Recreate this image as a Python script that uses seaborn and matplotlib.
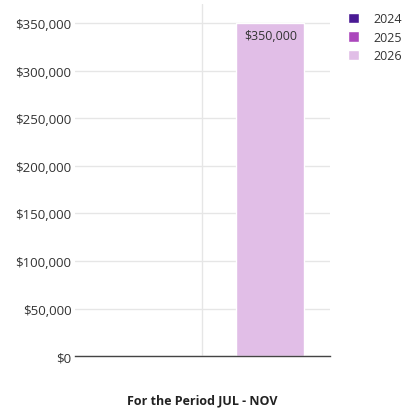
import matplotlib
matplotlib.use("Agg")
import matplotlib.pyplot as plt
import seaborn as sns
import pandas as pd
from matplotlib.ticker import FuncFormatter

# data
period = ["For the Period JUL - NOV"]
years = ["2024", "2025", "2026"]
amounts = [0, 0, 350000]
colors = ["#4a1a94", "#ab47bc", "#e1bee7"]

df = pd.DataFrame({
    "period": period * len(years),
    "year": years,
    "amount": amounts,
})

sns.set_theme(style="white")
plt.rcParams['font.family'] = ['Open Sans', 'DejaVu Sans']
plt.rcParams['font.size'] = 9

fig = plt.figure(figsize=(4.18, 4.10), dpi=100)
ax = fig.add_axes([0.179, 0.129, 0.61, 0.859])

sns.barplot(data=df, x="period", y="amount", hue="year", palette=colors,
            width=0.8, saturation=1, ax=ax, legend=True)

ax.set_ylim(0, 370000)
ax.set_xlim(-0.5, 0.5)
ax.set_yticks(range(0, 350001, 50000))
ax.yaxis.set_major_formatter(FuncFormatter(lambda v, p: f"${v:,.0f}"))
ax.grid(axis="y", color="#e6e6e6", linewidth=1)
ax.grid(axis="x", color="#e6e6e6", linewidth=1)
ax.set_axisbelow(True)

for s in ["top", "right", "left"]:
    ax.spines[s].set_visible(False)
ax.spines["bottom"].set_color("#444444")
ax.spines["bottom"].set_linewidth(1)

ax.tick_params(axis="y", length=3, color="#e6e6e6", labelsize=9.5, labelcolor="#333333", pad=-0.5)
ax.tick_params(axis="x", length=0)
ax.set_xticklabels([""])
ax.set_ylabel("")
ax.set_xlabel("For the Period JUL - NOV", fontsize=9, fontweight="bold",
              color="#222222", labelpad=23)

# value labels inside the top of non-zero bars
for cont in ax.containers:
    labels = [f"${b.get_height():,.0f}" if b.get_height() > 0 else "" for b in cont]
    ax.bar_label(cont, labels=labels, label_type="edge", padding=-14,
                 fontsize=9, color="#333333")

handles, lbls = ax.get_legend_handles_labels()
ax.get_legend().remove()
fig.legend(handles, lbls, loc="upper left", bbox_to_anchor=(0.833, 0.968),
           frameon=False, fontsize=9, handlelength=0.88, handleheight=0.88,
           handletextpad=1.1, labelspacing=0.45, labelcolor="#333333",
           borderpad=0, borderaxespad=0)

fig.savefig("out.png", dpi=100)
